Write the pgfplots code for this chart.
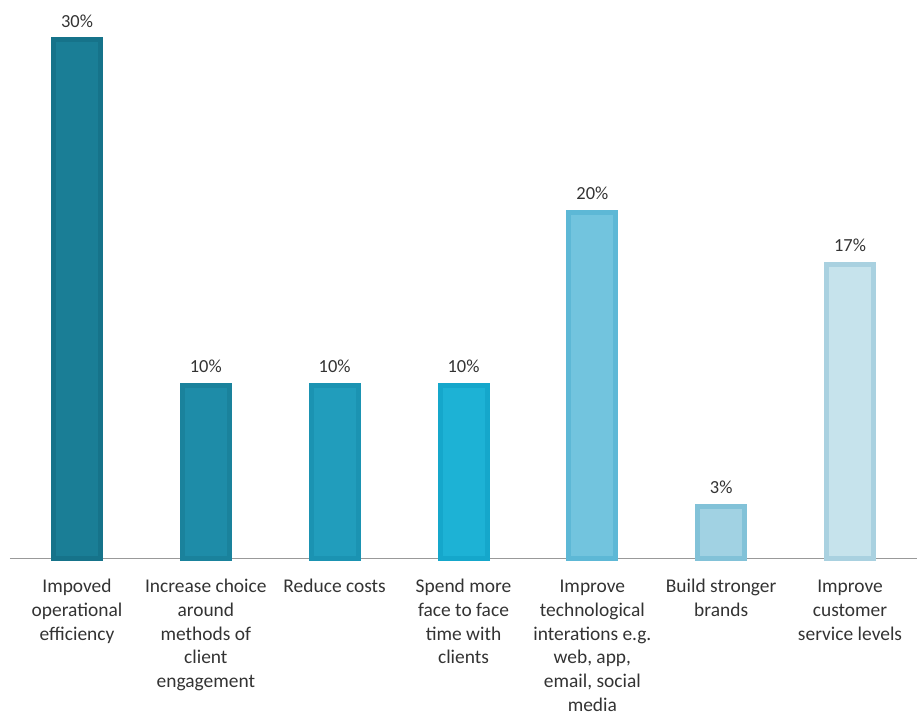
\documentclass[border=0pt]{standalone}
\usepackage{fontspec}
\setmainfont{Carlito}
\usepackage{pgfplots}
\pgfplotsset{compat=1.18}
\definecolor{b1}{HTML}{16738A}\definecolor{f1}{HTML}{1A7E96}
\definecolor{b2}{HTML}{1A829C}\definecolor{f2}{HTML}{1E8CA8}
\definecolor{b3}{HTML}{1B93B2}\definecolor{f3}{HTML}{219DBC}
\definecolor{b4}{HTML}{15A7CB}\definecolor{f4}{HTML}{1DB2D5}
\definecolor{b5}{HTML}{5DB8D6}\definecolor{f5}{HTML}{72C4DE}
\definecolor{b6}{HTML}{82C2D8}\definecolor{f6}{HTML}{A1D2E3}
\definecolor{b7}{HTML}{A9D1E0}\definecolor{f7}{HTML}{C6E3EC}
\begin{document}
\begin{tikzpicture}
\begin{axis}[
  width=907bp, height=518bp, scale only axis,
  xmin=-0.52, xmax=6.52, ymin=0, ymax=30,
  axis x line=bottom, axis y line=none,
  x axis line style={-, draw=gray!80, line width=1pt},
  xtick={0,1,2,3,4,5,6}, major tick length=0pt,
  xticklabels={{\strut Impoved\\operational\\efficiency},
    {\strut Increase choice\\around\\methods of\\client\\engagement},
    {\strut Reduce costs\\},
    {\strut Spend more\\face to face\\time with\\clients},
    {\strut Improve\\technological\\interations e.g.\\web, app,\\email, social\\media},
    {\strut Build stronger\\brands},
    {\strut Improve\\customer\\service levels}},
  xticklabel style={align=center, font=\fontsize{19.5}{24}\selectfont, text=black!80, yshift=-14bp, anchor=north},
  ybar, bar width=47bp, bar shift=0pt,
  every axis plot/.append style={line width=5bp},
  /pgf/number format/assume math mode=true,
  nodes near coords={\pgfmathprintnumber{\pgfplotspointmeta}\%},
  nodes near coords style={font=\fontsize{18.5}{22}\selectfont, text=black!80, yshift=7bp},
  clip=false,
]
\addplot[draw=b1, fill=f1] coordinates {(0,30)};
\addplot[draw=b2, fill=f2] coordinates {(1,10)};
\addplot[draw=b3, fill=f3] coordinates {(2,10)};
\addplot[draw=b4, fill=f4] coordinates {(3,10)};
\addplot[draw=b5, fill=f5] coordinates {(4,20)};
\addplot[draw=b6, fill=f6] coordinates {(5,3)};
\addplot[draw=b7, fill=f7] coordinates {(6,17)};
\end{axis}
\pgfresetboundingbox
\path ([xshift=-10bp,yshift=-164bp]current axis.south west) rectangle ([yshift=558bp]current axis.south east);
\end{tikzpicture}
\end{document}
